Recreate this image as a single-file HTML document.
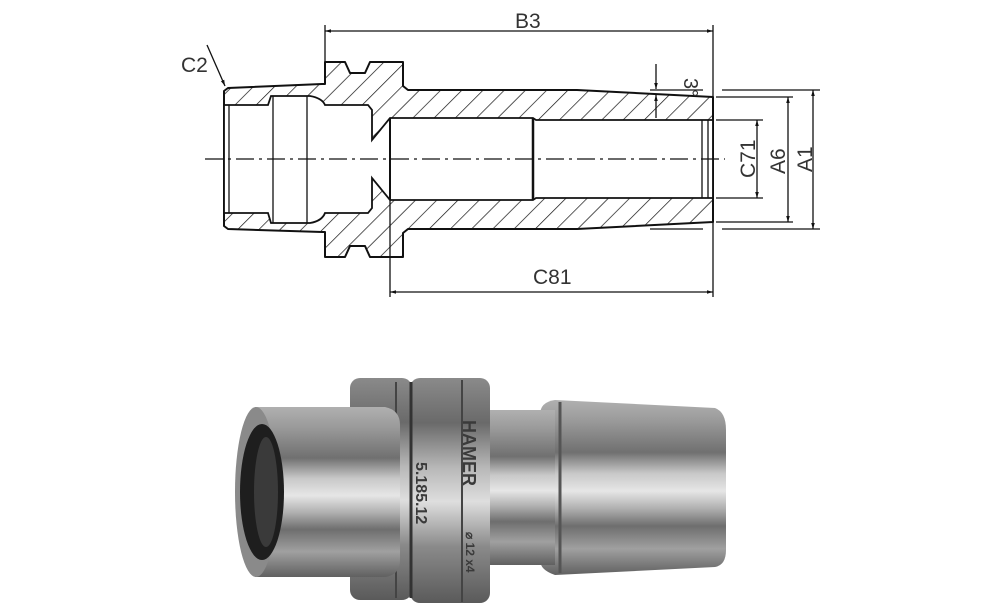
<!DOCTYPE html>
<html><head><meta charset="utf-8"><style>
html,body{margin:0;padding:0;background:#fff;}
svg{display:block;}
text{font-family:"Liberation Sans",sans-serif;}
</style></head><body>
<svg width="1000" height="611" viewBox="0 0 1000 611" xmlns="http://www.w3.org/2000/svg">
<defs>
<pattern id="hatch" patternUnits="userSpaceOnUse" width="15" height="15" patternTransform="rotate(45)">
<line x1="0" y1="0" x2="0" y2="15" stroke="#111" stroke-width="1.4"/>
</pattern>
<marker id="ar" viewBox="0 0 10 10" refX="10" refY="5" markerWidth="9" markerHeight="6" orient="auto-start-reverse" markerUnits="userSpaceOnUse">
<path d="M0,2 L10,5 L0,8 z" fill="#111"/>
</marker>
<linearGradient id="met" x1="0" y1="0" x2="0" y2="1">
<stop offset="0" stop-color="#b0b0b0"/><stop offset="0.12" stop-color="#9a9a9a"/>
<stop offset="0.3" stop-color="#707070"/><stop offset="0.42" stop-color="#c8c8c8"/>
<stop offset="0.52" stop-color="#e6e6e6"/><stop offset="0.62" stop-color="#b0b0b0"/>
<stop offset="0.72" stop-color="#6e6e6e"/><stop offset="0.85" stop-color="#a0a0a0"/>
<stop offset="1" stop-color="#606060"/>
</linearGradient>
<linearGradient id="fl" x1="0" y1="0" x2="0" y2="1">
<stop offset="0" stop-color="#8a8a8a"/><stop offset="0.2" stop-color="#6a6a6a"/>
<stop offset="0.4" stop-color="#b8b8b8"/><stop offset="0.55" stop-color="#dedede"/>
<stop offset="0.75" stop-color="#8a8a8a"/><stop offset="1" stop-color="#5a5a5a"/>
</linearGradient>
</defs>

<path d="M224,91 L228,88 L322,84 L325,84 L325,62 L345,62 L350,73 L365,73 L370,62 L403,62 L403,86 L408,90 L577,90 L713,97 L713,222 L577,229 L408,229 L403,233 L403,257 L370,257 L365,246 L350,246 L345,257 L325,257 L325,232 L322,232 L228,229 L224,226 Z" fill="url(#hatch)" stroke="#111" stroke-width="2" stroke-linejoin="round"/>
<path d="M224,105 L268,105 L271,96 L310,96 Q322,98 325,105 L368,105 L372,110 L372,140 L390,118 L533,118 L536,120 L713,120 L713,198 L536,198 L533,200 L390,200 L372,178 L372,208 L368,213 L325,213 Q322,221 310,223 L271,223 L268,213 L224,213 Z" fill="#fff" stroke="#111" stroke-width="1.8"/>
<g stroke="#111" stroke-width="1.3" fill="none">
<line x1="229" y1="105" x2="229" y2="213"/>
<line x1="273" y1="96" x2="273" y2="223"/>
<line x1="307" y1="96" x2="307" y2="223"/>
<line x1="390" y1="118" x2="390" y2="200" stroke-width="2"/>
<line x1="533" y1="118" x2="533" y2="200" stroke-width="2.5"/>
<line x1="702" y1="120" x2="702" y2="198"/>
<line x1="708" y1="120" x2="708" y2="198"/>
<line x1="205" y1="159" x2="725" y2="159" stroke-dasharray="18,5,3,5"/>
<line x1="325" y1="25" x2="325" y2="62"/>
<line x1="713" y1="25" x2="713" y2="297"/>
<line x1="325" y1="31" x2="713" y2="31" marker-start="url(#ar)" marker-end="url(#ar)"/>
<line x1="390" y1="200" x2="390" y2="297"/>
<line x1="390" y1="292" x2="713" y2="292" marker-start="url(#ar)" marker-end="url(#ar)"/>
<line x1="722" y1="90" x2="820" y2="90"/>
<line x1="722" y1="229" x2="820" y2="229"/>
<line x1="716" y1="97" x2="793" y2="97"/>
<line x1="716" y1="222" x2="793" y2="222"/>
<line x1="716" y1="120" x2="763" y2="120"/>
<line x1="716" y1="198" x2="763" y2="198"/>
<line x1="813" y1="90" x2="813" y2="229" marker-start="url(#ar)" marker-end="url(#ar)"/>
<line x1="788" y1="97" x2="788" y2="222" marker-start="url(#ar)" marker-end="url(#ar)"/>
<line x1="757" y1="120" x2="757" y2="198" marker-start="url(#ar)" marker-end="url(#ar)"/>
<line x1="650" y1="90" x2="703" y2="90"/>
<line x1="650" y1="229" x2="703" y2="229"/>
<line x1="656" y1="64" x2="656" y2="89" marker-end="url(#ar)"/>
<line x1="656" y1="118" x2="656" y2="95" marker-end="url(#ar)"/>
<line x1="207" y1="45" x2="225" y2="86" marker-end="url(#ar)"/>
</g>
<g fill="#333" font-size="21">
<text x="515" y="28">B3</text>
<text x="533" y="284">C81</text>
<text x="181" y="72">C2</text>
<text transform="translate(684,78) rotate(90)" font-size="20">3°</text>
<text transform="translate(755,178) rotate(-90)">C71</text>
<text transform="translate(785,174) rotate(-90)">A6</text>
<text transform="translate(812,172) rotate(-90)">A1</text>
</g>

<path d="M555,400 L715,408 Q726,412 726,430 L726,550 Q726,565 715,567 L555,575 Q540,570 540,560 L540,415 Q540,402 555,400 Z" fill="url(#met)"/>
<line x1="560" y1="402" x2="560" y2="573" stroke="#555" stroke-width="3"/>
<rect x="480" y="410" width="75" height="155" fill="url(#met)"/>
<rect x="410" y="378" width="80" height="225" rx="10" fill="url(#fl)"/>
<rect x="350" y="378" width="62" height="222" rx="10" fill="url(#fl)"/>
<line x1="411" y1="382" x2="411" y2="598" stroke="#333" stroke-width="3"/>
<line x1="462" y1="380" x2="462" y2="602" stroke="#444" stroke-width="2"/>
<line x1="396" y1="382" x2="396" y2="598" stroke="#444" stroke-width="2"/>
<path d="M255,407 L385,407 Q400,410 400,425 L400,560 Q400,575 385,577 L255,577 Z" fill="url(#met)"/>
<ellipse cx="256" cy="492" rx="21" ry="85" fill="#8a8a8a"/>
<ellipse cx="262" cy="492" rx="22" ry="68" fill="#1e1e1e"/>
<ellipse cx="266" cy="492" rx="12" ry="55" fill="#3a3a3a"/>
<g fill="#3a3a3a" font-weight="bold">
<text transform="translate(463,420) rotate(90)" font-size="18">HAMER</text>
<text transform="translate(416,462) rotate(90)" font-size="16">5.185.12</text>
<text transform="translate(466,532) rotate(90)" font-size="12">⌀ 12 x4</text>
</g>
</svg>
</body></html>
